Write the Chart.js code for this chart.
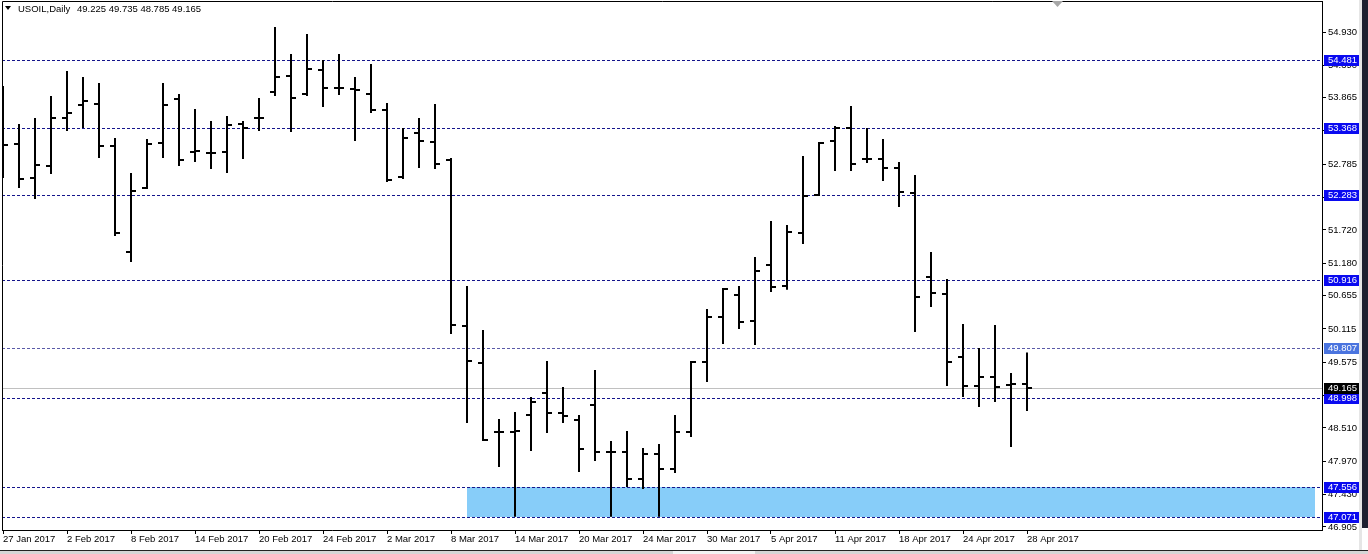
<!DOCTYPE html>
<html>
<head>
<meta charset="utf-8">
<title>USOIL, Daily</title>
<script src="https://cdn.jsdelivr.net/npm/chart.js@4.4.1/dist/chart.umd.min.js"></script>
<style>
  html, body { margin: 0; padding: 0; background: #fff; overflow: hidden; }
  canvas { display: block; }
</style>
</head>
<body>
<canvas id="chart" width="1368" height="554" style="width:1368px;height:554px"></canvas>
<script>
// ── Data ─────────────────────────────────────────────────────
const DATES = [
  '27 Jan 2017', '30 Jan 2017', '31 Jan 2017', '1 Feb 2017', '2 Feb 2017', '3 Feb 2017',
  '6 Feb 2017', '7 Feb 2017', '8 Feb 2017', '9 Feb 2017', '10 Feb 2017', '13 Feb 2017',
  '14 Feb 2017', '15 Feb 2017', '16 Feb 2017', '17 Feb 2017', '20 Feb 2017', '21 Feb 2017',
  '22 Feb 2017', '23 Feb 2017', '24 Feb 2017', '27 Feb 2017', '28 Feb 2017', '1 Mar 2017',
  '2 Mar 2017', '3 Mar 2017', '6 Mar 2017', '7 Mar 2017', '8 Mar 2017', '9 Mar 2017',
  '10 Mar 2017', '13 Mar 2017', '14 Mar 2017', '15 Mar 2017', '16 Mar 2017', '17 Mar 2017',
  '20 Mar 2017', '21 Mar 2017', '22 Mar 2017', '23 Mar 2017', '24 Mar 2017', '27 Mar 2017',
  '28 Mar 2017', '29 Mar 2017', '30 Mar 2017', '31 Mar 2017', '3 Apr 2017', '4 Apr 2017',
  '5 Apr 2017', '6 Apr 2017', '7 Apr 2017', '10 Apr 2017', '11 Apr 2017', '12 Apr 2017',
  '13 Apr 2017', '17 Apr 2017', '18 Apr 2017', '19 Apr 2017', '20 Apr 2017', '21 Apr 2017',
  '24 Apr 2017', '25 Apr 2017', '26 Apr 2017', '27 Apr 2017', '28 Apr 2017'
];

const OPENS = [
  53.422, 53.114, 52.563, 52.757, 53.536, 53.746, 53.763, 53.082, 51.363, 52.401,
  53.130, 53.844, 52.984, 52.968, 52.984, 53.438, 53.536, 53.957, 54.217, 53.925,
  54.314, 54.022, 54.006, 53.925, 53.665, 52.579, 53.292, 53.147, 52.855, 50.163,
  49.563, 48.445, 48.445, 48.721, 49.077, 48.753, 48.639, 48.883, 48.121, 48.121,
  47.683, 48.088, 47.845, 48.445, 49.580, 50.309, 50.666, 50.244, 51.152, 50.812,
  51.671, 52.287, 53.163, 53.374, 52.871, 52.871, 52.725, 52.320, 50.958, 50.682,
  49.661, 49.191, 49.336, 49.207, 49.225
];
const HIGHS = [
  54.055, 53.438, 53.536, 53.892, 54.298, 54.200, 54.103, 53.211, 52.644, 53.195,
  54.103, 53.925, 53.682, 53.487, 53.568, 53.487, 53.860, 55.011, 54.573, 54.898,
  54.476, 54.573, 54.200, 54.411, 53.779, 53.374, 53.536, 53.763, 52.887, 50.812,
  50.099, 48.656, 48.769, 49.012, 49.596, 49.174, 48.721, 49.450, 48.299, 48.461,
  48.185, 48.250, 48.721, 49.596, 50.439, 50.779, 50.812, 51.282, 51.866, 51.801,
  52.920, 53.147, 53.406, 53.730, 53.374, 53.195, 52.822, 52.612, 51.363, 50.925,
  50.196, 49.807, 50.180, 49.401, 49.735
];
const LOWS = [
  52.563, 52.401, 52.222, 52.628, 53.325, 53.374, 52.887, 51.623, 51.201, 52.385,
  52.887, 52.757, 52.822, 52.709, 52.644, 52.871, 53.325, 53.892, 53.309, 53.892,
  53.714, 53.909, 53.163, 53.617, 52.498, 52.547, 52.725, 52.709, 50.034, 48.591,
  48.299, 47.877, 47.071, 48.137, 48.429, 48.591, 47.796, 47.975, 47.071, 47.553,
  47.521, 47.071, 47.780, 48.364, 49.255, 49.872, 50.115, 49.855, 50.715, 50.750,
  51.493, 52.270, 52.676, 52.676, 52.806, 52.514, 52.093, 50.066, 50.471, 49.191,
  49.012, 48.850, 48.931, 48.202, 48.785
];
const CLOSES = [
  53.098, 52.547, 52.774, 53.536, 53.617, 53.811, 53.082, 51.671, 52.352, 53.114,
  53.746, 52.855, 53.001, 52.975, 53.422, 53.374, 53.530, 54.200, 53.860, 54.330,
  54.022, 54.015, 53.990, 53.665, 52.530, 53.211, 53.163, 52.790, 50.180, 49.596,
  48.315, 48.450, 48.461, 48.931, 48.753, 48.704, 48.169, 48.121, 48.115, 47.683,
  48.088, 47.845, 48.445, 49.580, 50.309, 50.763, 50.228, 51.055, 50.796, 51.687,
  52.271, 53.130, 53.374, 52.790, 52.865, 52.725, 52.336, 50.634, 50.698, 49.580,
  49.191, 49.336, 49.174, 49.220, 49.165
];

// horizontal price levels drawn on the chart
const LEVELS       = [54.481, 53.368, 52.283, 50.916, 49.807, 48.998, 47.556, 47.071];
const LEVEL_LIGHT  = [false, false, false, false, true, false, false, false];
const BID          = 49.165;

// support zone rectangle (bar index range, price range)
const ZONE_FROM = 29;
const ZONE_TO   = 82;
const ZONE_LOW  = 47.071;
const ZONE_HIGH = 47.556;

// price axis tick labels
const PRICE_TICKS = [54.930, 54.390, 53.865, 53.325, 52.785, 52.245, 51.720, 51.180,
                     50.655, 50.115, 49.575, 49.035, 48.510, 47.970, 47.430, 46.905];
const DATE_STEP = 4;

// visible window
const X_MIN = -0.0625, X_MAX = 82.4375;
const Y_MIN = 46.8561, Y_MAX = 55.4326;

// ── Palette ──────────────────────────────────────────────────
const COLORS = {
  bar:        '#000000',
  level:      '#15158c',
  levelLight: '#5a5aa8',
  tag:        '#0a0af0',
  tagLight:   '#4a74df',
  bid:        '#c0c0c0',
  zone:       '#87cdf9',
  text:       '#000000',
};
const FONT = '9.5px "Liberation Sans", Arial, sans-serif';

// ── Plugin: zone, levels, open/close ticks, tags ─────────────
const mt4Plugin = {
  id: 'mt4',
  beforeDraw(chart) {
    const { ctx, width, height } = chart;
    ctx.save();
    ctx.fillStyle = '#fff';
    ctx.fillRect(0, 0, width, height);
    ctx.restore();
  },
  beforeDatasetsDraw(chart) {
    const { ctx, chartArea: a, scales: { x, y } } = chart;
    ctx.save();
    ctx.beginPath();
    ctx.rect(a.left, a.top, a.right - a.left, a.bottom - a.top);
    ctx.clip();

    // zone
    const zx1 = x.getPixelForValue(ZONE_FROM), zx2 = x.getPixelForValue(ZONE_TO);
    const zy1 = y.getPixelForValue(ZONE_HIGH), zy2 = y.getPixelForValue(ZONE_LOW);
    ctx.fillStyle = COLORS.zone;
    ctx.fillRect(zx1, Math.round(zy1), zx2 - zx1, Math.round(zy2) - Math.round(zy1));

    // bid line
    const by = Math.round(y.getPixelForValue(BID)) + 0.5;
    ctx.strokeStyle = COLORS.bid;
    ctx.lineWidth = 1;
    ctx.beginPath(); ctx.moveTo(a.left, by); ctx.lineTo(a.right, by); ctx.stroke();

    // dashed levels
    ctx.setLineDash([3, 2]);
    LEVELS.forEach((v, i) => {
      const ly = Math.round(y.getPixelForValue(v)) + 0.5;
      ctx.strokeStyle = LEVEL_LIGHT[i] ? COLORS.levelLight : COLORS.level;
      ctx.beginPath(); ctx.moveTo(a.left, ly); ctx.lineTo(a.right, ly); ctx.stroke();
    });
    ctx.restore();
  },
  afterDatasetsDraw(chart) {
    const { ctx, chartArea: a, scales: { x, y } } = chart;
    ctx.save();
    ctx.beginPath();
    ctx.rect(a.left + 1, a.top, a.right - a.left - 1, a.bottom - a.top);
    ctx.clip();
    ctx.fillStyle = COLORS.bar;
    OPENS.forEach((o, i) => {
      const px = Math.round(x.getPixelForValue(i));
      const yo = Math.round(y.getPixelForValue(o));
      const yc = Math.round(y.getPixelForValue(CLOSES[i]));
      ctx.fillRect(px - 5, yo - 1, 5, 2);
      ctx.fillRect(px, yc - 1, 5, 2);
    });
    ctx.restore();
  },
  afterDraw(chart) {
    const { ctx, chartArea: a, scales: { y }, width } = chart;
    ctx.save();

    // frame: top + left (right/bottom come from axes)
    ctx.strokeStyle = '#000';
    ctx.lineWidth = 1;
    ctx.beginPath();
    ctx.moveTo(a.left + 0.5, a.bottom);
    ctx.lineTo(a.left + 0.5, a.top + 0.5);
    ctx.lineTo(a.right, a.top + 0.5);
    ctx.stroke();

    // price tags
    ctx.font = FONT;
    ctx.textBaseline = 'middle';
    ctx.textAlign = 'left';
    const tag = (v, bg) => {
      const ty = Math.round(y.getPixelForValue(v));
      ctx.fillStyle = bg;
      ctx.fillRect(a.right + 2, ty - 5, 36, 11);
      ctx.fillStyle = '#fff';
      ctx.fillText(v.toFixed(3), a.right + 6, ty + 0.5);
    };
    LEVELS.forEach((v, i) => tag(v, LEVEL_LIGHT[i] ? COLORS.tagLight : COLORS.tag));
    tag(BID, '#000');

    // header
    ctx.fillStyle = COLORS.text;
    ctx.beginPath();
    ctx.moveTo(5, 6); ctx.lineTo(11, 6); ctx.lineTo(8, 10); ctx.closePath();
    ctx.fill();
    ctx.fillText('USOIL,Daily', 18, 9);
    ctx.fillText([OPENS.at(-1), HIGHS.at(-1), LOWS.at(-1), CLOSES.at(-1)].map(v => v.toFixed(3)).join(' '), 77, 9);

    // chart shift marker
    ctx.fillStyle = '#a8a8a8';
    ctx.beginPath();
    ctx.moveTo(1052, 1); ctx.lineTo(1063, 1); ctx.lineTo(1057.5, 7); ctx.closePath();
    ctx.fill();

    // window edges
    ctx.fillStyle = '#1d2030';
    ctx.fillRect(1362, 0, 6, 528);
    ctx.fillStyle = '#e6e6e6';
    ctx.fillRect(1359, 0, 3, 554);
    ctx.fillStyle = '#222';
    ctx.fillRect(0, 550, width, 1);
    ctx.fillStyle = '#d6d6d6';
    ctx.fillRect(0, 551, width, 3);
    ctx.fillStyle = '#f4f4f4';
    ctx.fillRect(673, 551, 82, 3);
    ctx.restore();
  }
};

// ── Chart ────────────────────────────────────────────────────
const ranges = HIGHS.map((h, i) => ({ x: i, y: [LOWS[i], h] }));

new Chart(document.getElementById('chart'), {
  type: 'bar',
  data: {
    datasets: [{
      data: ranges,
      backgroundColor: COLORS.bar,
      borderWidth: 0,
      barThickness: 2,
      inflateAmount: 0,
    }]
  },
  options: {
    responsive: false,
    animation: false,
    devicePixelRatio: 1,
    layout: { padding: { left: 2, top: 1, right: 0, bottom: 0 } },
    plugins: { legend: { display: false }, tooltip: { enabled: false } },
    scales: {
      x: {
        type: 'linear',
        offset: false,
        min: X_MIN,
        max: X_MAX,
        afterBuildTicks: s => {
          s.ticks = DATES.map((_, i) => ({ value: i })).filter(t => t.value % DATE_STEP === 0);
        },
        afterFit: s => { s.height = 24; s.paddingLeft = 0; s.paddingRight = 0; },
        ticks: {
          autoSkip: false,
          maxRotation: 0,
          align: 'start',
          padding: 0,
          color: COLORS.text,
          font: { family: '"Liberation Sans", Arial, sans-serif', size: 9.5 },
          callback: v => DATES[v] || '',
        },
        grid: { drawOnChartArea: false, drawTicks: true, tickLength: 4, color: '#000', offset: false },
        border: { display: true, color: '#000' },
      },
      y: {
        type: 'linear',
        position: 'right',
        min: Y_MIN,
        max: Y_MAX,
        beginAtZero: false,
        afterBuildTicks: s => { s.ticks = PRICE_TICKS.map(v => ({ value: v })); },
        afterFit: s => { s.width = 46; s.paddingTop = 0; s.paddingBottom = 0; },
        ticks: {
          padding: 2,
          color: COLORS.text,
          font: { family: '"Liberation Sans", Arial, sans-serif', size: 9.5 },
          callback: v => v.toFixed(3),
        },
        grid: { drawOnChartArea: false, drawTicks: true, tickLength: 4, color: '#000' },
        border: { display: true, color: '#000' },
      }
    }
  },
  plugins: [mt4Plugin]
});
</script>
</body>
</html>
